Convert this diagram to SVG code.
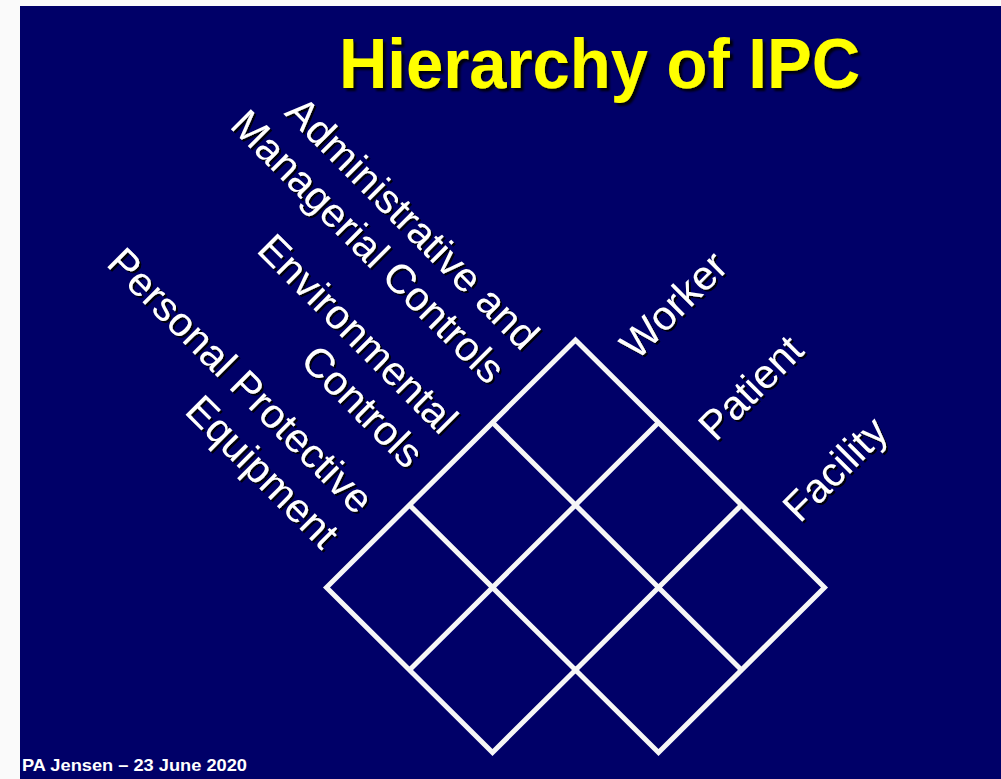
<svg xmlns="http://www.w3.org/2000/svg" width="1001" height="779" viewBox="0 0 1001 779">
  <defs>
    <style>
      .lbl { font-family: "Liberation Sans", Arial, sans-serif; font-size: 41px; fill: #ffffff; }
      .grid { fill: none; stroke: #f6f6f6; stroke-width: 5; stroke-linejoin: miter; stroke-linecap: butt; }
    </style>
    <filter id="sh" x="-10%" y="-10%" width="120%" height="120%">
      <feDropShadow dx="2" dy="2" stdDeviation="0.6" flood-color="#000000" flood-opacity="0.9"/>
    </filter>
    <filter id="shT" x="-10%" y="-20%" width="120%" height="140%">
      <feDropShadow dx="3" dy="3" stdDeviation="0.8" flood-color="#000000" flood-opacity="0.9"/>
    </filter>
  </defs>

  <rect x="0" y="0" width="1001" height="779" fill="#fafafa"/>
  <rect x="20" y="6" width="981" height="773" fill="#000068"/>

  <g id="title" filter="url(#shT)">
    <text x="339" y="88" font-family="Liberation Sans, Arial, sans-serif" font-weight="bold" font-size="70" fill="#ffff00" textLength="521" lengthAdjust="spacingAndGlyphs">Hierarchy of IPC</text>
  </g>

  <g id="grid">
    <path class="grid" d="M575.5,340 L824.5,587.5 L658.5,752.5 L575.5,670 L492.5,752.5 L326.5,587.5 Z"/>
    <path class="grid" d="M492.5,422.5 L741.5,670 M409.5,505 L575.5,670 M658.5,422.5 L409.5,670 M741.5,505 L575.5,670"/>
  </g>

  <g id="row-labels" filter="url(#sh)">
    <g transform="rotate(45)">
      <g id="admin">
        <text class="lbl" x="618" y="-120" text-anchor="end">Administrative and</text>
        <text class="lbl" x="618" y="-72" text-anchor="end">Managerial Controls</text>
      </g>
      <g id="environmental">
        <text class="lbl" x="620" y="-3" text-anchor="end">Environmental</text>
        <text class="lbl" x="620" y="45" text-anchor="end">Controls</text>
      </g>
      <g id="ppe">
        <text class="lbl" x="617" y="113" text-anchor="end">Personal Protective</text>
        <text class="lbl" x="617" y="162" text-anchor="end">Equipment</text>
      </g>
    </g>
  </g>

  <g id="column-labels" filter="url(#sh)">
    <g transform="rotate(-45)">
      <text id="worker" class="lbl" x="195" y="706">Worker</text>
      <text id="patient" class="lbl" x="193" y="819">Patient</text>
      <text id="facility" class="lbl" x="195" y="936">Facility</text>
    </g>
  </g>

  <g id="footer">
    <text x="22" y="771" font-family="Liberation Sans, Arial, sans-serif" font-weight="bold" font-size="17" fill="#ffffff" textLength="225" lengthAdjust="spacingAndGlyphs">PA Jensen – 23 June 2020</text>
  </g>
</svg>
